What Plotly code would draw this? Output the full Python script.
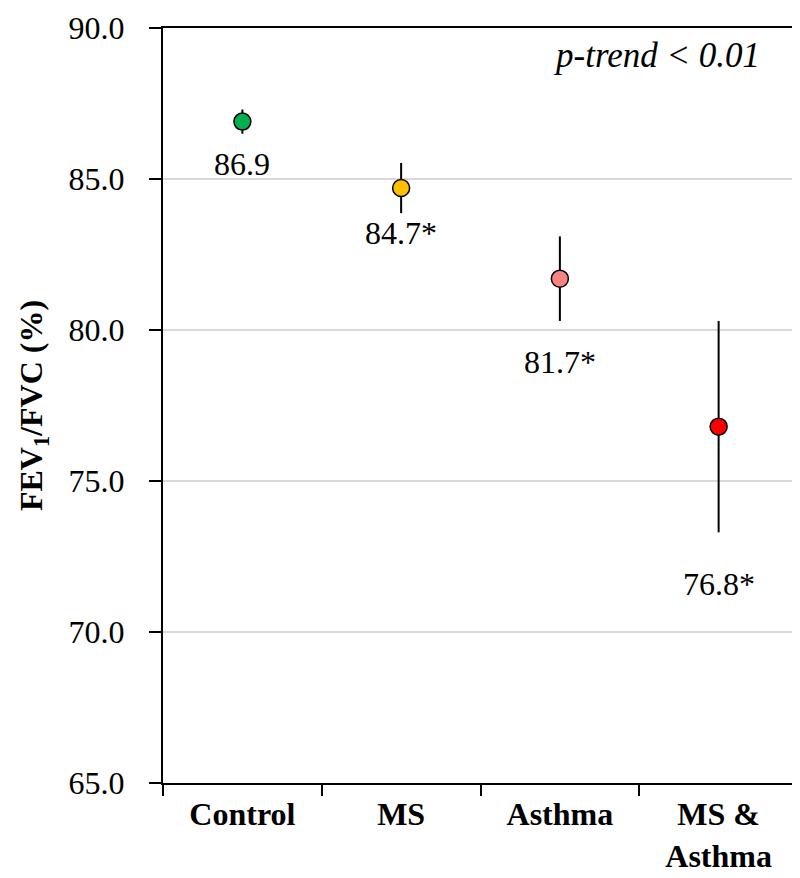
import plotly.graph_objects as go

categories = ["Control", "MS", "Asthma", "MS &<br>Asthma"]
means = [86.9, 84.7, 81.7, 76.8]
errors = [0.4, 0.83, 1.4, 3.5]
significance = ["", "*", "*", "*"]
colors = ["#00b050", "#ffc000", "#f98383", "#ff0000"]
label_gaps = [10, 0, 21, 32]  # pixel gap below error bar end

y_ticks = [65, 70, 75, 80, 85, 90]

FONT = "Liberation Serif, Times New Roman, serif"
FS = 32

fig = go.Figure()
fig.add_trace(go.Scatter(
    x=categories, y=means, mode="markers",
    marker=dict(size=17, color=colors, line=dict(color="black", width=1.5)),
    error_y=dict(type="data", array=errors, visible=True, color="black",
                 thickness=2, width=0),
    showlegend=False, hoverinfo="skip",
))

for cat, m, e, s, g in zip(categories, means, errors, significance, label_gaps):
    fig.add_annotation(
        x=cat, y=m - e, text=f"{m:.1f}{s}", showarrow=False,
        yanchor="top", yshift=-g, xanchor="center",
        font=dict(family=FONT, size=FS, color="black"),
    )

fig.add_annotation(
    xref="paper", yref="paper", x=1, y=1, xanchor="right", yanchor="top",
    xshift=-36, yshift=-6, showarrow=False,
    text="<i>p-trend &lt; 0.01</i>",
    font=dict(family=FONT, size=35, color="black"),
)

fig.update_layout(
    width=800, height=878,
    margin=dict(l=155, r=10, t=20, b=103, autoexpand=False),
    plot_bgcolor="white", paper_bgcolor="white",
    font=dict(family=FONT, size=FS, color="black"),
)
fig.update_xaxes(
    type="category", range=[-0.5, 3.5], tickson="boundaries",
    ticks="outside", ticklen=11, tickwidth=2, tickcolor="black",
    showline=True, linecolor="black", linewidth=2, mirror=True,
    showgrid=False, automargin=False, ticklabelstandoff=2,
    tickfont=dict(family=FONT, size=FS, color="black"),
    tickprefix="<b>", ticksuffix="</b>",
)
fig.update_yaxes(
    range=[65, 90], tickvals=y_ticks, tickformat=".1f",
    ticks="outside", ticklen=12, tickwidth=2, tickcolor="black",
    showline=True, linecolor="black", linewidth=2, mirror=True,
    showgrid=True, gridcolor="#d9d9d9", gridwidth=2, zeroline=False,
    automargin=False, ticklabelstandoff=18,
    tickfont=dict(family=FONT, size=FS, color="black"),
    title=dict(text="<b>FEV<sub>1</sub>/FVC (%)</b>", standoff=16,
               font=dict(family=FONT, size=FS, color="black")),
)

fig.write_html("out.html")
